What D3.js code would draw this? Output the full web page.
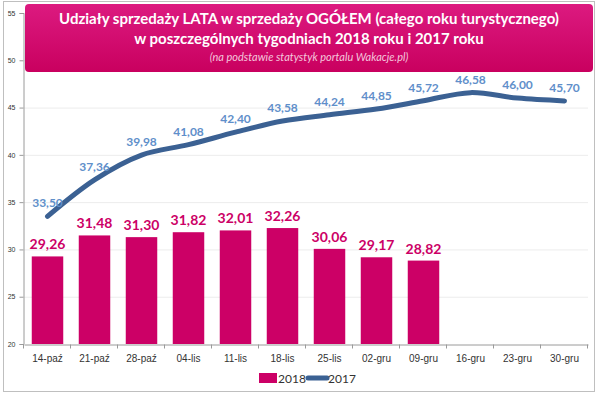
<!DOCTYPE html>
<html>
<head>
<meta charset="utf-8">
<script src="https://cdn.jsdelivr.net/npm/d3@7"></script>
<style>
  body { margin: 0; background: #fff; }
  svg { font-family: Lato, "Open Sans", sans-serif; }
</style>
</head>
<body>
<div id="chart"></div>
<script>
// data
const weeks = ["14-paź", "21-paź", "28-paź", "04-lis", "11-lis", "18-lis", "25-lis", "02-gru", "09-gru", "16-gru", "23-gru", "30-gru"];
const sales2018 = [29.26, 31.48, 31.30, 31.82, 32.01, 32.26, 30.06, 29.17, 28.82];
const sales2017 = [33.50, 37.36, 39.98, 41.08, 42.40, 43.58, 44.24, 44.85, 45.72, 46.58, 46.00, 45.70];
const yTicks = [20, 25, 30, 35, 40, 45, 50, 55];

const width = 600, height = 394;
const margin = { left: 24, right: 12, top: 13, bottom: 50 };
const pink = "#cc0066", blue = "#3b6193", labelBlue = "#5f8fca";

const fmt = v => v.toFixed(2).replace(".", ",");

const svg = d3.select("#chart").append("svg")
    .attr("width", width)
    .attr("height", height);

// outer frame
svg.append("rect")
    .attr("x", 3.5).attr("y", 1.5)
    .attr("width", 591).attr("height", 390)
    .attr("fill", "#fff")
    .attr("stroke", "#bfbfbf");

const x = d3.scaleBand()
    .domain(weeks)
    .range([margin.left, width - margin.right])
    .paddingInner(0.33)
    .paddingOuter(0.165);

const xp = d3.scalePoint()
    .domain(weeks)
    .range([margin.left, width - margin.right])
    .padding(0.5);

const y = d3.scaleLinear()
    .domain([20, 55])
    .range([height - margin.bottom, margin.top]);

// grid
svg.append("g")
    .selectAll("line")
    .data(yTicks.slice(1))
    .enter().append("line")
    .attr("x1", margin.left).attr("x2", width - margin.right)
    .attr("y1", d => y(d) + 0.5).attr("y2", d => y(d) + 0.5)
    .attr("stroke", "#ececec");

// y axis
const yAxis = svg.append("g")
    .attr("transform", `translate(${margin.left - 0.5},0)`)
    .call(d3.axisLeft(y).tickValues(yTicks).tickSize(4).tickPadding(4));
yAxis.select(".domain").attr("stroke", "#9a9a9a");
yAxis.selectAll(".tick line").attr("stroke", "#9a9a9a");
yAxis.selectAll("text").attr("font-size", 7).attr("fill", "#333")
    .attr("font-family", "Liberation Sans, sans-serif");

// x axis
const xAxis = svg.append("g")
    .attr("transform", `translate(0,${y(20) + 0.5})`)
    .call(d3.axisBottom(x).tickSize(0).tickPadding(10));
xAxis.select(".domain").attr("stroke", "#9a9a9a");
xAxis.selectAll("text").attr("font-size", 10).attr("fill", "#333");
// tick marks between categories
xAxis.append("g").selectAll("line")
    .data(d3.range(weeks.length + 1))
    .enter().append("line")
    .attr("x1", i => margin.left + i * x.step() - 0.5)
    .attr("x2", i => margin.left + i * x.step() - 0.5)
    .attr("y1", 0).attr("y2", 4)
    .attr("stroke", "#9a9a9a");

// bars 2018
svg.append("g")
    .selectAll("rect")
    .data(sales2018)
    .enter().append("rect")
    .attr("x", (d, i) => x(weeks[i]))
    .attr("width", x.bandwidth())
    .attr("y", d => y(d))
    .attr("height", d => y(20) - y(d))
    .attr("fill", pink);

svg.append("g")
    .selectAll("text")
    .data(sales2018)
    .enter().append("text")
    .attr("x", (d, i) => x(weeks[i]) + x.bandwidth() / 2)
    .attr("y", d => y(d) - 7)
    .attr("text-anchor", "middle")
    .attr("font-size", 14)
    .attr("font-weight", "bold")
    .attr("fill", pink)
    .text(fmt);

// line 2017 (smoothed like the original)
const line = d3.line()
    .x((d, i) => xp(weeks[i]))
    .y(d => y(d))
    .curve(d3.curveCatmullRom.alpha(0.5));

svg.append("path")
    .datum(sales2017)
    .attr("d", line)
    .attr("fill", "none")
    .attr("stroke", blue)
    .attr("stroke-width", 5)
    .attr("stroke-linejoin", "round")
    .attr("stroke-linecap", "round");

svg.append("g")
    .selectAll("text")
    .data(sales2017)
    .enter().append("text")
    .attr("x", (d, i) => xp(weeks[i]))
    .attr("y", d => y(d) - 9)
    .attr("text-anchor", "middle")
    .attr("font-size", 12)
    .attr("font-weight", "bold")
    .attr("fill", labelBlue)
    .text(fmt);

// title box
const defs = svg.append("defs");
const grad = defs.append("linearGradient")
    .attr("id", "titleGrad")
    .attr("x1", 0).attr("y1", 0).attr("x2", 0).attr("y2", 1);
grad.append("stop").attr("offset", "0%").attr("stop-color", "#dc1a80");
grad.append("stop").attr("offset", "100%").attr("stop-color", "#c9005f");

svg.append("rect")
    .attr("x", 25).attr("y", 4)
    .attr("width", 568).attr("height", 68)
    .attr("rx", 4)
    .attr("fill", "url(#titleGrad)");

svg.append("text")
    .attr("x", 309).attr("y", 24)
    .attr("text-anchor", "middle")
    .attr("font-size", 15)
    .attr("font-weight", "bold")
    .attr("fill", "#fff")
    .text("Udziały sprzedaży LATA w sprzedaży OGÓŁEM (całego roku turystycznego)");

svg.append("text")
    .attr("x", 309).attr("y", 44)
    .attr("text-anchor", "middle")
    .attr("font-size", 15)
    .attr("font-weight", "bold")
    .attr("fill", "#fff")
    .text("w poszczególnych tygodniach 2018 roku i 2017 roku");

svg.append("text")
    .attr("x", 309).attr("y", 61)
    .attr("text-anchor", "middle")
    .attr("font-size", 11)
    .attr("font-style", "italic")
    .attr("fill", "#f4c6dc")
    .text("(na podstawie statystyk portalu Wakacje.pl)");

// legend
const legend = svg.append("g").attr("transform", "translate(259,378)");
legend.append("rect")
    .attr("x", 0).attr("y", -5)
    .attr("width", 18).attr("height", 10)
    .attr("fill", pink);
legend.append("text")
    .attr("x", 19).attr("y", 4.5)
    .attr("font-size", 12).attr("fill", "#333")
    .text("2018");
legend.append("line")
    .attr("x1", 49).attr("x2", 68)
    .attr("y1", 0).attr("y2", 0)
    .attr("stroke", blue).attr("stroke-width", 5)
    .attr("stroke-linecap", "round");
legend.append("text")
    .attr("x", 69).attr("y", 4.5)
    .attr("font-size", 12).attr("fill", "#333")
    .text("2017");
</script>
</body>
</html>
